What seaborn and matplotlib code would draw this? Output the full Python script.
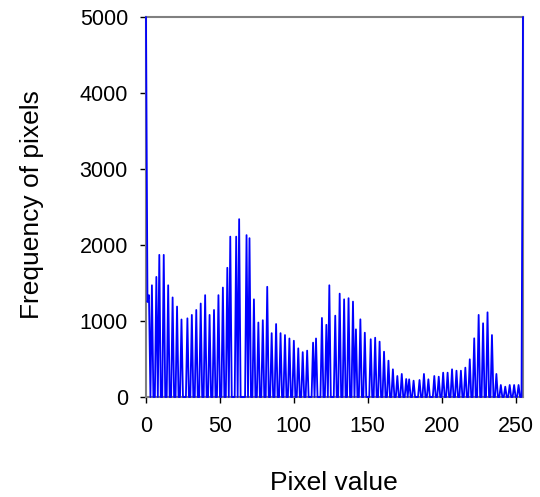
import numpy as np
import pandas as pd
import matplotlib
matplotlib.use("Agg")
import matplotlib.pyplot as plt
import seaborn as sns

# Nonzero histogram bins (pixel value -> frequency); all other bins are zero
bin_values = [0, 1, 2, 4, 7, 9, 12, 15, 18, 21, 24, 28, 31, 34, 37, 40, 43, 46, 49, 52,
              55, 57, 61, 63, 68, 70, 73, 76, 79, 82, 85, 88, 91, 94, 97, 100, 103, 106,
              109, 113, 115, 119, 122, 124, 128, 131, 134, 137, 140, 142, 145, 148, 152,
              155, 158, 161, 164, 167, 170, 173, 176, 178, 181, 185, 188, 191, 195, 198,
              201, 204, 207, 210, 213, 216, 219, 222, 225, 228, 231, 234, 237, 240, 243,
              246, 249, 252, 255]
bin_counts = [5000, 1250, 1340, 1470, 1580, 1870, 1870, 1470, 1310, 1190, 1020, 1035, 1080,
              1145, 1230, 1340, 1080, 1145, 1340, 1440, 1700, 2110, 2110, 2340, 2130, 2090,
              1285, 980, 1010, 1450, 840, 960, 840, 815, 770, 740, 640, 590, 610, 715, 770,
              1040, 950, 1470, 1070, 1360, 1285, 1300, 1255, 890, 1022, 846, 760, 780, 728,
              596, 478, 364, 276, 303, 237, 233, 215, 224, 303, 233, 276, 267, 320, 320, 364,
              346, 346, 386, 496, 772, 1080, 970, 1114, 815, 303, 158, 136, 158, 158, 158,
              5000]

pixel = np.arange(256)
freq = np.zeros(256)
freq[bin_values] = bin_counts
df = pd.DataFrame({"Pixel value": pixel, "Frequency": freq})

x_ticks = [0, 50, 100, 150, 200, 250]
y_ticks = [0, 1000, 2000, 3000, 4000, 5000]

sns.set_style("white")
plt.rcParams["font.family"] = ["Liberation Sans", "DejaVu Sans"]
plt.rcParams["text.color"] = "black"
plt.rcParams["axes.labelcolor"] = "black"
plt.rcParams["xtick.color"] = "black"
plt.rcParams["ytick.color"] = "black"

fig = plt.figure(figsize=(5.4, 4.97), dpi=100)
ax = fig.add_axes([146 / 540, 1 - 397 / 497, (523 - 146) / 540, (397 - 17) / 497])

sns.lineplot(data=df, x="Pixel value", y="Frequency", ax=ax, color="#0000ff",
             linewidth=1.3, clip_on=False, zorder=5)

ax.set_xlim(0, 255)
ax.set_ylim(0, 5000)
ax.set_xticks(x_ticks)
ax.set_yticks(y_ticks)
ax.tick_params(axis="both", direction="out", length=4, width=1, colors="black",
               labelsize=15.5, pad=9, bottom=True, left=True)
ax.tick_params(axis="x", pad=10)
for s in ax.spines.values():
    s.set_color("#808080")
    s.set_linewidth(1.5)
ax.set_xlabel("Pixel value", fontsize=19)
ax.set_ylabel("Frequency of pixels", fontsize=19)
ax.xaxis.set_label_coords((334 - 146) / 377, (397 - 483) / 380)
ax.yaxis.set_label_coords((32 - 146) / 377, (397 - 205) / 380)
ax.xaxis.label.set_va("center")
ax.yaxis.label.set_va("center")

fig.savefig("out.png", dpi=100)
